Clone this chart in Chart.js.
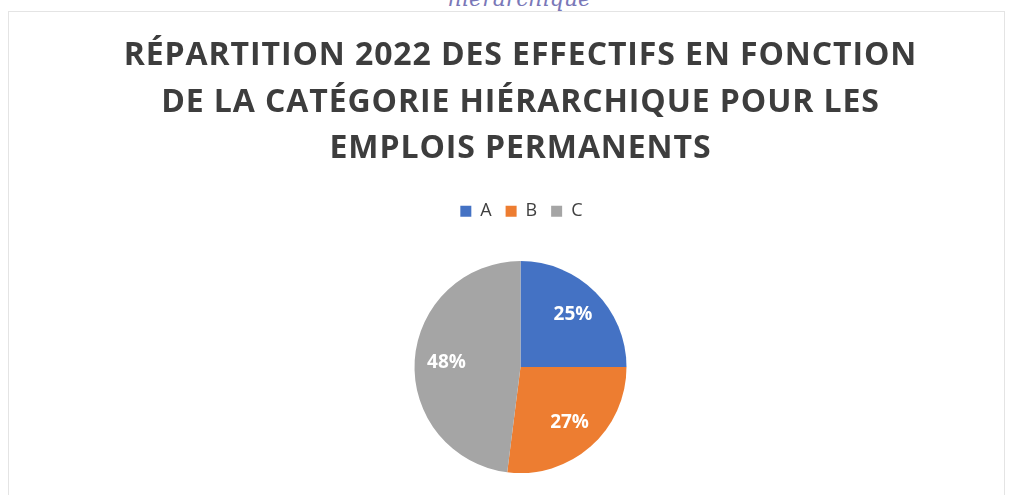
<!DOCTYPE html>
<html lang="fr">
<head>
<meta charset="utf-8">
<script src="https://cdn.jsdelivr.net/npm/chart.js@4/dist/chart.umd.min.js"></script>
<style>
  html, body { margin: 0; padding: 0; background: #fff; }
  #wrap { position: relative; width: 1019px; height: 495px; overflow: hidden; }
  #frag { position: absolute; left: 10px; width: 1019px; top: -14px; text-align: center;
          font: italic 22px "DejaVu Serif", serif; color: #7a78b8; }
  #frame { position: absolute; left: 8px; top: 11px; width: 995px; height: 500px;
           border: 1px solid #e4e4e4; }
  canvas { position: absolute; left: 0; top: 0; }
</style>
</head>
<body>
<div id="wrap">
  <div id="frag">hiérarchique</div>
  <div id="frame"></div>
  <!-- a bit taller than the window: the clipped strip lowers the pie centre -->
  <canvas id="chart" width="1019" height="504"></canvas>
</div>
<script>
// Effectifs permanents 2022 par catégorie (valeurs en %)
const categories = ['A', 'B', 'C'];
const shares = [25, 27, 48];
const sliceColors = ['#4472C4', '#ED7D31', '#A5A5A5'];
const titleLines = [
  'RÉPARTITION 2022 DES EFFECTIFS EN FONCTION',
  'DE LA CATÉGORIE HIÉRARCHIQUE POUR LES',
  'EMPLOIS PERMANENTS'
];

// Slightly wider title lettering, closer to the original Calibri.
const titleSpacing = {
  id: 'titleSpacing',
  beforeDraw(chart) { chart.ctx.letterSpacing = '0.9px'; },
  beforeDatasetsDraw(chart) { chart.ctx.letterSpacing = '0px'; }
};

// Percent labels inside the slices (no datalabels plugin offline).
const sliceLabels = {
  id: 'sliceLabels',
  afterDatasetsDraw(chart) {
    const { ctx } = chart;
    const meta = chart.getDatasetMeta(0);
    const total = shares.reduce((a, b) => a + b, 0);
    ctx.save();
    ctx.fillStyle = '#fff';
    ctx.font = 'bold 19px "Open Sans", Lato, sans-serif';
    ctx.textAlign = 'center';
    ctx.textBaseline = 'middle';
    meta.data.forEach((arc, i) => {
      const { x, y, startAngle, endAngle, outerRadius } = arc.getProps(['x', 'y', 'startAngle', 'endAngle', 'outerRadius'], true);
      const mid = (startAngle + endAngle) / 2;
      const r = outerRadius * 0.7;
      ctx.fillText(Math.round(shares[i] / total * 100) + '%', x + Math.cos(mid) * r, y + Math.sin(mid) * r);
    });
    ctx.restore();
  }
};

new Chart(document.getElementById('chart'), {
  type: 'pie',
  data: {
    labels: categories,
    datasets: [{
      data: shares,
      backgroundColor: sliceColors,
      borderWidth: 0,
      radius: 106
    }]
  },
  options: {
    responsive: false,
    animation: false,
    layout: { padding: { left: 22 } },
    plugins: {
      title: {
        display: true,
        text: titleLines,
        color: '#3d3d3d',
        font: { family: '"Open Sans", Lato, sans-serif', size: 32, weight: 'bold', lineHeight: 1.45 },
        padding: { top: 33, bottom: 17 }
      },
      legend: {
        position: 'top',
        labels: {
          color: '#404040',
          font: { family: '"Open Sans", Lato, sans-serif', size: 18 },
          boxWidth: 11,
          boxHeight: 11,
          padding: 13
        }
      },
      tooltip: { enabled: false }
    }
  },
  plugins: [titleSpacing, sliceLabels]
});
</script>
</body>
</html>
